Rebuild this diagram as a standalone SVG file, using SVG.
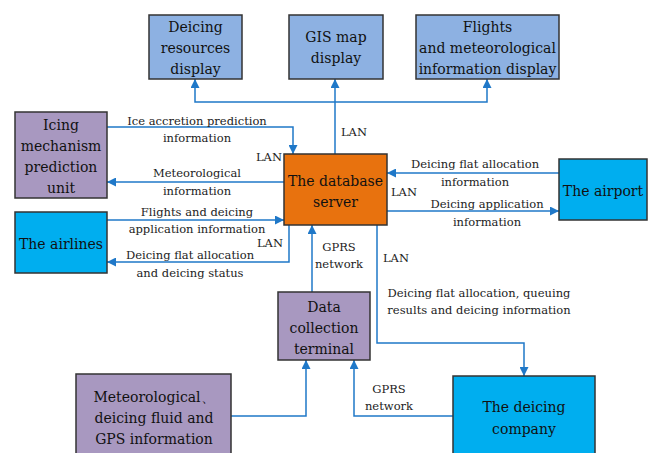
<svg xmlns="http://www.w3.org/2000/svg" width="655" height="453" viewBox="0 0 655 453">
<defs>
<marker id="ah" viewBox="0 0 10 10" refX="10" refY="5" markerWidth="9" markerHeight="9" markerUnits="userSpaceOnUse" orient="auto">
<path d="M0,0 L10,5 L0,10 z" fill="#1F78C8"/>
</marker>
<style>
.box{stroke:#333;stroke-width:1.5}
.disp{fill:#8DB1E2}
.cyan{fill:#00AEEF}
.purp{fill:#A898C0}
.orng{fill:#E8720E}
text{font-family:'DejaVu Serif','Liberation Serif',serif}
.bt{font-size:14px;fill:#111;text-anchor:middle}
.lt{font-size:11.5px;fill:#222;text-anchor:middle}
.ln{fill:none;stroke:#1F78C8;stroke-width:1.5}
.ar{marker-end:url(#ah)}
</style>
</defs>
<rect width="655" height="453" fill="#fff"/>

<g id="connectors">
<path class="ln" d="M335,154 V102"/>
<path class="ln ar" d="M335,102 V79"/>
<path class="ln ar" d="M335,102 H195 V79"/>
<path class="ln ar" d="M335,102 H487 V79"/>
<path class="ln ar" d="M107,127 H293 V154"/>
<path class="ln ar" d="M284,182 H107"/>
<path class="ln ar" d="M107,220 H284"/>
<path class="ln ar" d="M289,225 V262 H107"/>
<path class="ln ar" d="M559,173 H387"/>
<path class="ln ar" d="M387,211 H559"/>
<path class="ln ar" d="M312,292 V225"/>
<path class="ln ar" d="M377,225 V343 H524 V376"/>
<path class="ln ar" d="M231,416 H306 V360"/>
<path class="ln ar" d="M453,416 H354 V360"/>
<text class="lt" x="354" y="136">LAN</text>
<text class="lt" x="197" y="125">Ice accretion prediction</text>
<text class="lt" x="197" y="142">information</text>
<text class="lt" x="269" y="161">LAN</text>
<text class="lt" x="197" y="177">Meteorological</text>
<text class="lt" x="197" y="195">information</text>
<text class="lt" x="197" y="216">Flights and deicing</text>
<text class="lt" x="197" y="233">application information</text>
<text class="lt" x="270" y="247">LAN</text>
<text class="lt" x="190" y="259">Deicing flat allocation</text>
<text class="lt" x="190" y="277">and deicing status</text>
<text class="lt" x="339" y="251">GPRS</text>
<text class="lt" x="339" y="268">network</text>
<text class="lt" x="475" y="168">Deicing flat allocation</text>
<text class="lt" x="475" y="186">information</text>
<text class="lt" x="404" y="196">LAN</text>
<text class="lt" x="487" y="208">Deicing application</text>
<text class="lt" x="487" y="226">information</text>
<text class="lt" x="396" y="262">LAN</text>
<text class="lt" x="479" y="297">Deicing flat allocation, queuing</text>
<text class="lt" x="479" y="314">results and deicing information</text>
<text class="lt" x="389" y="393">GPRS</text>
<text class="lt" x="389" y="410">network</text>
</g>

<g id="deicing-resources-display">
<rect class="box disp" x="149" y="15" width="93" height="64"/>
<text class="bt" x="195.5" y="32">Deicing</text>
<text class="bt" x="195.5" y="53">resources</text>
<text class="bt" x="195.5" y="74">display</text>
</g>
<g id="gis-map-display">
<rect class="box disp" x="289" y="15" width="94" height="64"/>
<text class="bt" x="336" y="42">GIS map</text>
<text class="bt" x="336" y="63">display</text>
</g>
<g id="flights-met-display">
<rect class="box disp" x="416" y="15" width="143" height="64"/>
<text class="bt" x="487.5" y="32">Flights</text>
<text class="bt" x="487.5" y="53">and meteorological</text>
<text class="bt" x="487.5" y="74">information display</text>
</g>
<g id="icing-mechanism">
<rect class="box purp" x="15" y="112" width="92" height="86"/>
<text class="bt" x="61" y="130">Icing</text>
<text class="bt" x="61" y="151">mechanism</text>
<text class="bt" x="61" y="172">prediction</text>
<text class="bt" x="61" y="193">unit</text>
</g>
<g id="database-server">
<rect class="box orng" x="284" y="154" width="103" height="71"/>
<text class="bt" x="335.5" y="186">The database</text>
<text class="bt" x="335.5" y="207">server</text>
</g>
<g id="airlines">
<rect class="box cyan" x="15" y="212" width="92" height="61"/>
<text class="bt" x="61" y="249">The airlines</text>
</g>
<g id="airport">
<rect class="box cyan" x="559" y="159" width="88" height="61"/>
<text class="bt" x="603" y="196">The airport</text>
</g>
<g id="data-collection-terminal">
<rect class="box purp" x="278" y="292" width="92" height="68"/>
<text class="bt" x="324" y="312">Data</text>
<text class="bt" x="324" y="333">collection</text>
<text class="bt" x="324" y="354">terminal</text>
</g>
<g id="met-fluid-gps">
<rect class="box purp" x="76" y="374" width="155" height="85"/>
<text class="bt" x="154" y="402">Meteorological、</text>
<text class="bt" x="154" y="423">deicing fluid and</text>
<text class="bt" x="154" y="444">GPS information</text>
</g>
<g id="deicing-company">
<rect class="box cyan" x="453" y="376" width="142" height="85"/>
<text class="bt" x="524" y="412">The deicing</text>
<text class="bt" x="524" y="434">company</text>
</g>
</svg>
